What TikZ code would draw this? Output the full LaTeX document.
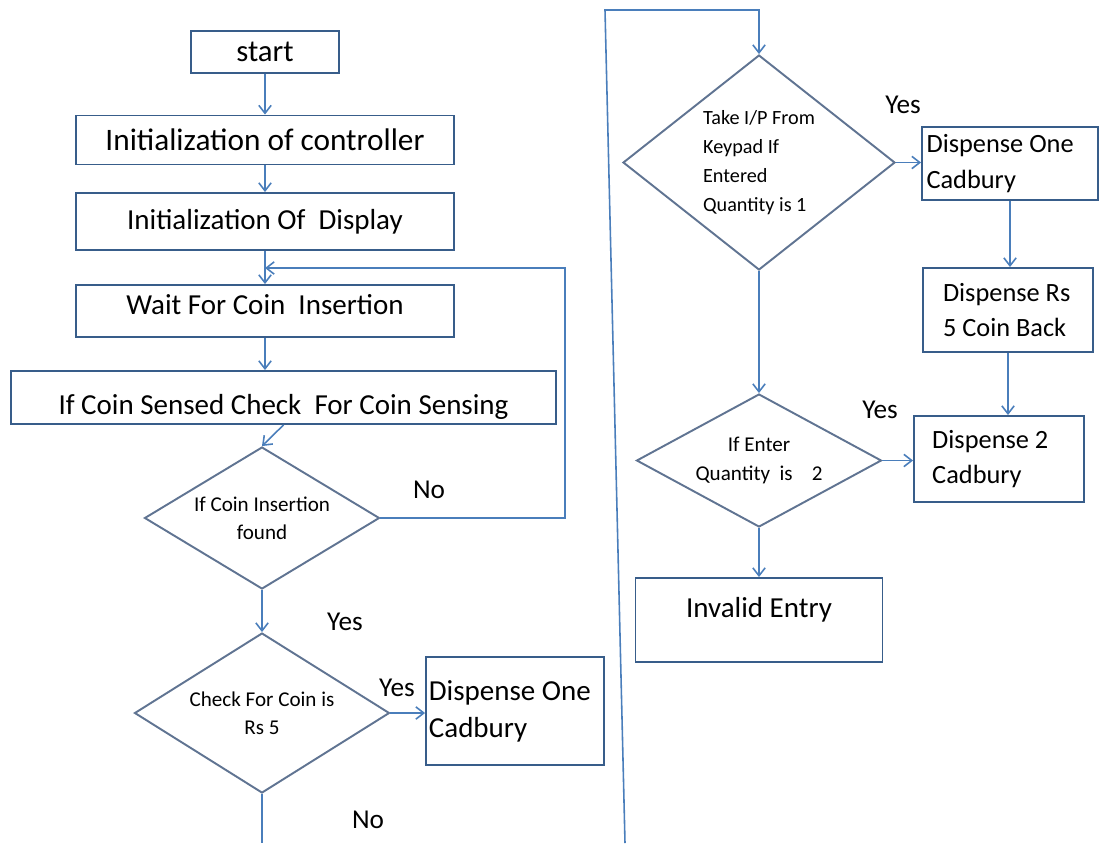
\documentclass[tikz,border=0pt]{standalone}
\usepackage{fontspec}
\setmainfont{Carlito}
\usetikzlibrary{arrows.meta,shapes.geometric}

\definecolor{flowblue}{RGB}{74,126,187}
\definecolor{boxblue}{RGB}{56,93,138}
\definecolor{decgray}{RGB}{96,116,146}

\begin{document}
\begin{tikzpicture}[
    x=0.02cm, y=-0.02cm,
    box/.style={rectangle,draw=boxblue,line width=1.1pt,inner sep=0pt,font=\fontsize{16.5}{20}\selectfont},
    sidebox/.style={box,align=flush left,font=\fontsize{15}{20}\selectfont},
    decision/.style={diamond,draw=decgray,line width=1.1pt,inner sep=0pt,align=center,font=\fontsize{12}{16}\selectfont},
    flow/.style={draw=flowblue,line width=0.9pt,-{Straight Barb[length=4.5pt,width=7pt]}},
    wire/.style={draw=flowblue,line width=0.9pt},
    answer/.style={font=\fontsize{15.5}{18}\selectfont}
]
    \useasboundingbox (0,0) rectangle (1099,843);

    % coin side
    \node[box,minimum width=2.96cm,minimum height=0.84cm,font=\fontsize{17.5}{20}\selectfont] (start) at (265,52) {start};
    \node[box,minimum width=7.56cm,minimum height=0.98cm,font=\fontsize{17.8}{20}\selectfont] (ctrl) at (265,140) {Initialization of controller};
    \node[box,minimum width=7.56cm,minimum height=1.14cm] (disp) at (265,221.5) {Initialization Of\ \ Display};
    \node[box,minimum width=7.56cm,minimum height=1.04cm,text height=12pt,text depth=8.5pt] (wait) at (265,311) {Wait For Coin\ \ Insertion};
    \node[box,minimum width=10.9cm,minimum height=1.06cm,text height=23pt,text depth=4pt] (sensed) at (283.5,397.5) {If Coin Sensed Check\ \ For Coin Sensing};
    \node[decision,minimum width=4.7cm,minimum height=2.84cm,aspect=1.65] (found) at (262,518) {If Coin Insertion\\found};
    \node[decision,minimum width=5.1cm,minimum height=3.2cm,aspect=1.6] (rs5) at (262,713) {Check For Coin is\\Rs 5};
    \node[box,minimum width=3.56cm,minimum height=2.16cm,align=flush left,inner xsep=1pt,text width=98pt,font=\fontsize{16.5}{21}\selectfont] (one) at (515,711) {Dispense One\\Cadbury};

    % keypad side
    \node[decision,minimum width=5.44cm,minimum height=4.3cm,aspect=1.27,align=left,font=\fontsize{11.5}{16.5}\selectfont] (qty1) at (759,162.5) {Take I/P From\\Keypad If\\Entered\\Quantity is 1};
    \node[sidebox,minimum width=3.52cm,minimum height=1.46cm,inner xsep=2.3pt,text width=95pt] (oneb) at (1010,163.5) {Dispense One\\Cadbury};
    \node[sidebox,minimum width=3.4cm,minimum height=1.68cm,inner xsep=11pt,text width=74pt] (back) at (1008,310) {Dispense Rs\\5 Coin Back};
    \node[decision,minimum width=4.9cm,minimum height=2.66cm,aspect=1.84] (qty2) at (759,460.5) {If Enter\\Quantity\ \ is\ \ \ \ 2};
    \node[sidebox,minimum width=3.4cm,minimum height=1.72cm,inner xsep=10pt,text width=76pt] (two) at (999,459) {Dispense 2\\Cadbury};
    \node[box,minimum width=4.94cm,minimum height=1.68cm,text height=12pt,text depth=15pt] (invalid) at (759,620) {Invalid Entry};

    \node[answer] (no1)  at (429,490) {No};
    \node[answer] (yes1) at (345,622) {Yes};
    \node[answer] (yes2) at (397,688) {Yes};
    \node[answer] (no2)  at (368,820) {No};
    \node[answer] (yes3) at (903,105) {Yes};
    \node[answer] (yes4) at (880,410) {Yes};

    \coordinate (loop)  at (565,268);
    \coordinate (exit)  at (262,843);
    \coordinate (entry) at (625,843);
    \coordinate (turn)  at (605,10);

    \draw[flow] (start) -- (ctrl);
    \draw[flow] (ctrl) -- (disp);
    \draw[flow] (disp) -- (wait);
    \draw[flow] (wait.south) -- (wait.south |- sensed.north);
    \draw[flow] (sensed.south) -- (found.north);
    \draw[flow] (found.east) -| (loop) -- (loop -| wait.north);
    \draw[flow] (found) -- (rs5);
    \draw[flow] (rs5.east) -- (rs5.east -| one.west);
    \draw[wire] (rs5) -- (exit);
    \draw[flow] (entry) -- (turn) -| (qty1.north);
    \draw[flow] (qty1.east) -- (qty1.east -| oneb.west);
    \draw[flow] (oneb.south) -- (oneb.south |- back.north);
    \draw[flow] (back.south) -- (back.south |- two.north);
    \draw[flow] (qty1) -- (qty2);
    \draw[flow] (qty2.east) -- (qty2.east -| two.west);
    \draw[flow] (qty2) -- (invalid);
\end{tikzpicture}
\end{document}
